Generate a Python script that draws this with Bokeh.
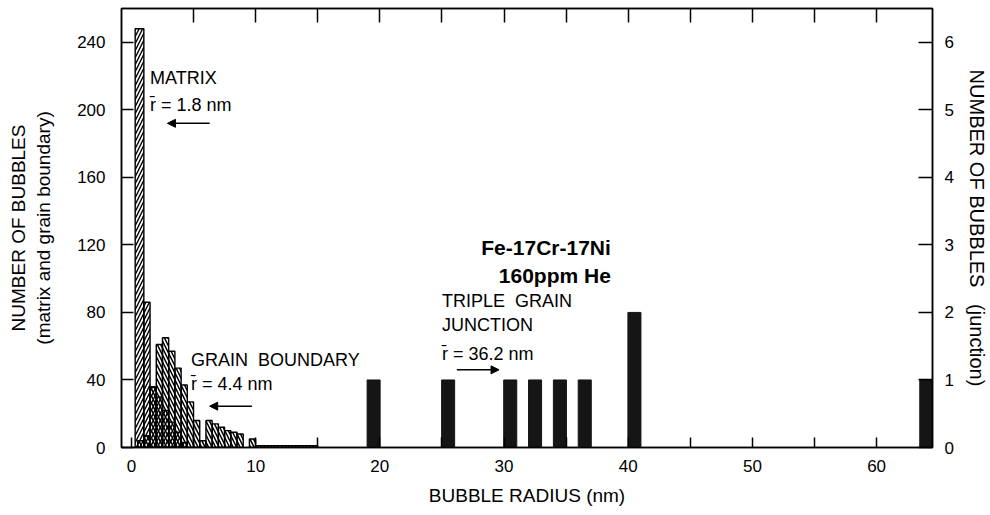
from bokeh.plotting import figure
from bokeh.models import Range1d, LinearAxis, FixedTicker, Label, Arrow, NormalHead, ColumnDataSource
from bokeh.embed import file_html
from bokeh.resources import INLINE

# ---------------- data ----------------
# matrix bubbles histogram (nm bin edges, counts)
matrix_left = [0.3, 1.0, 1.5, 2.0, 2.5, 3.0, 3.5, 4.0]
matrix_right = [1.0, 1.5, 2.0, 2.5, 3.0, 3.5, 4.0, 4.5]
matrix_count = [248, 86, 36, 30, 22, 15, 9, 3]

# grain boundary bubbles histogram
gb_left = [0.5, 1.0, 1.5, 2.0, 2.5, 3.0, 3.5, 4.0, 4.5, 5.0, 5.5, 6.0, 6.5, 7.0, 7.5, 8.0, 8.5, 9.5, 10.0]
gb_right = [1.0, 1.5, 2.0, 2.5, 3.0, 3.5, 4.0, 4.5, 5.0, 5.5, 6.0, 6.5, 7.0, 7.5, 8.0, 8.5, 9.0, 10.0, 15.0]
gb_count = [4, 7, 36, 61, 65, 57, 47, 37, 27, 16, 4, 16, 14, 12, 10, 9, 8, 5, 1]

# triple grain junction bubbles (right axis)
junction_r = [19.5, 25.5, 30.5, 32.5, 34.5, 36.5, 40.5, 64.0]
junction_n = [1, 1, 1, 1, 1, 1, 2, 1]

x_ticks = [0, 10, 20, 30, 40, 50, 60]
x_minor = [5, 15, 25, 35, 45, 55]
top_ticks = [5, 10, 15, 20, 25, 30, 35, 40, 45, 50, 55, 60]
y_left_ticks = [0, 40, 80, 120, 160, 200, 240]
y_right_ticks = [0, 1, 2, 3, 4, 5, 6]

NB = "\u00a0"

# ---------------- figure ----------------
FONT = "Liberation Sans"
p = figure(width=990, height=515, x_range=Range1d(-0.8, 64.5), y_range=Range1d(0, 260),
           output_backend="svg", toolbar_location=None,
           min_border_left=121, min_border_right=56, min_border_top=8, min_border_bottom=68)
p.extra_y_ranges = {"junction": Range1d(0, 6.5)}
p.xgrid.visible = False
p.ygrid.visible = False
p.outline_line_color = "black"
p.outline_line_width = 1.5
p.background_fill_color = "white"
p.border_fill_color = "white"

def style_axis(ax, tick_in, label_size="17px"):
    ax.axis_line_color = "black"
    ax.axis_line_width = 1.5
    ax.major_tick_line_color = "black"
    ax.major_tick_line_width = 1.5
    ax.major_tick_in = tick_in
    ax.major_tick_out = 0
    ax.minor_tick_in = tick_in
    ax.minor_tick_out = 0
    ax.minor_tick_line_width = 1.5
    ax.major_label_text_font = FONT
    ax.major_label_text_font_size = label_size
    ax.major_label_text_color = "black"
    ax.axis_label_text_font = FONT
    ax.axis_label_text_font_size = "19px"
    ax.axis_label_text_font_style = "normal"
    ax.axis_label_text_color = "black"

# bottom axis
xa = p.xaxis[0]
xa.ticker = FixedTicker(ticks=x_ticks, minor_ticks=x_minor)
style_axis(xa, 10)
xa.minor_tick_line_color = "black"
xa.major_label_standoff = 12
xa.axis_label = "BUBBLE RADIUS (nm)"
xa.axis_label_standoff = 10

# left axis
ya = p.yaxis[0]
ya.ticker = FixedTicker(ticks=y_left_ticks)
style_axis(ya, 12)
ya.minor_tick_line_color = None
ya.major_label_standoff = 16
ya.axis_label = "NUMBER OF BUBBLES\n(matrix and grain boundary)"
ya.axis_label_standoff = 20

# right axis
ra = LinearAxis(y_range_name="junction", ticker=FixedTicker(ticks=y_right_ticks))
style_axis(ra, 14)
ra.minor_tick_line_color = None
ra.major_label_standoff = 12
ra.axis_label = f"NUMBER OF BUBBLES{NB}{NB}{NB}(junction)"
ra.axis_label_text_font_size = "20px"
ra.axis_label_standoff = 9
p.add_layout(ra, "right")

# top axis: ticks only (drawn as minor ticks, so no labels exist)
ta = LinearAxis(ticker=FixedTicker(ticks=[], minor_ticks=top_ticks))
style_axis(ta, 14)
ta.minor_tick_line_color = "black"
ta.major_label_standoff = 0
p.add_layout(ta, "above")

# ---------------- bars ----------------
gb_src = ColumnDataSource(dict(left=gb_left, right=gb_right, top=gb_count))
p.quad(left="left", right="right", top="top", bottom=0, source=gb_src,
       fill_color="white", fill_alpha=0, line_color="black", line_width=1.4,
       hatch_pattern="\\", hatch_color="black", hatch_weight=1.5, hatch_scale=7)

m_src = ColumnDataSource(dict(left=matrix_left, right=matrix_right, top=matrix_count))
p.quad(left="left", right="right", top="top", bottom=0, source=m_src,
       fill_color="white", fill_alpha=0, line_color="black", line_width=1.4,
       hatch_pattern="/", hatch_color="black", hatch_weight=1.4, hatch_scale=7)

j_src = ColumnDataSource(dict(x=junction_r, top=junction_n))
p.vbar(x="x", top="top", bottom=0, width=1.05, source=j_src, y_range_name="junction",
       fill_color="#151515", line_color="#151515")

# ---------------- annotations ----------------
def lab(x, y, t, size="18px", bold=False, align="left"):
    p.add_layout(Label(x=x, y=y, text=t, text_font=FONT, text_font_size=size,
                       text_font_style="bold" if bold else "normal",
                       text_align=align, text_baseline="middle", text_color="black"))

def arrow(x0, x1, y):
    p.add_layout(Arrow(end=NormalHead(size=8, fill_color="black", line_color="black"),
                       x_start=x0, y_start=y, x_end=x1, y_end=y,
                       line_color="black", line_width=1.5))

lab(1.5, 219, "MATRIX")
lab(1.5, 203, "r\u0304 = 1.8 nm")
arrow(6.3, 2.9, 192)

lab(4.8, 52, f"GRAIN{NB} BOUNDARY")
lab(4.8, 37.5, "r\u0304 = 4.4 nm")
arrow(9.7, 6.3, 24.5)

lab(25.0, 86.5, f"TRIPLE{NB} GRAIN")
lab(25.0, 72.5, "JUNCTION")
lab(25.0, 55.5, "r\u0304 = 36.2 nm")
arrow(26.2, 29.6, 46)

lab(38.6, 118.5, "Fe-17Cr-17Ni", size="21px", bold=True, align="right")
lab(38.6, 101.8, "160ppm He", size="21px", bold=True, align="right")

open("out.html", "w").write(file_html(p, INLINE))
